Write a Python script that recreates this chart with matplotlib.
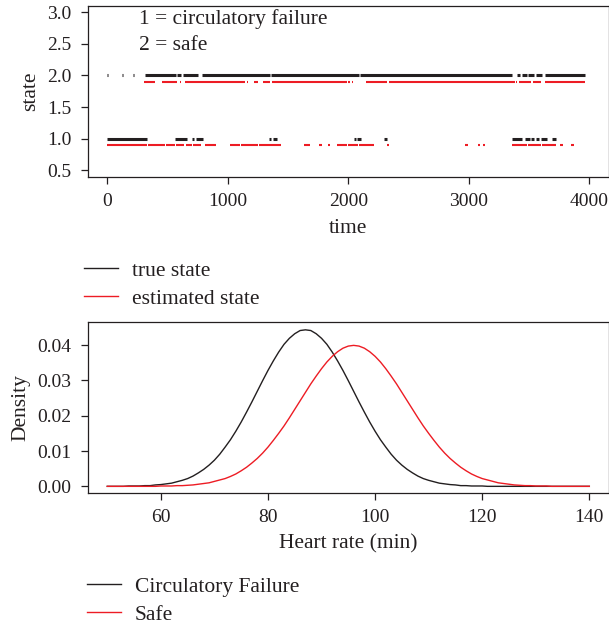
import matplotlib.pyplot as plt
from matplotlib.lines import Line2D

plt.rcParams["font.family"] = ["Liberation Serif", "DejaVu Serif"]
plt.rcParams["font.size"] = 15.5
plt.rcParams["text.color"] = "#231f20"
plt.rcParams["axes.labelcolor"] = "#231f20"
plt.rcParams["xtick.color"] = "#231f20"
plt.rcParams["ytick.color"] = "#231f20"
plt.rcParams["axes.edgecolor"] = "#231f20"

BLACK = "#231f20"
RED = "#ed1c24"

# ---- top panel: state over time (intervals of time where a state holds) ----
true_fail = [(0, 330), (565, 665), (705, 720), (735, 795), (1340, 1360), (1375, 1405),
             (2045, 2060), (2075, 2105), (2300, 2320), (3355, 3445), (3470, 3510),
             (3520, 3540), (3555, 3585), (3600, 3650), (3690, 3720)]
true_safe = [(0, 8), (120, 130), (210, 220), (311, 570), (575, 610), (632, 755),
             (783, 1347), (1355, 2085), (2095, 3362), (3400, 3422), (3438, 3482),
             (3495, 3542), (3556, 3610), (3630, 3965)]
est_fail = [(0, 330), (335, 420), (425, 480), (490, 560), (570, 640), (650, 700),
            (710, 780), (810, 900), (1020, 1100), (1110, 1250), (1260, 1440),
            (1630, 1685), (1760, 1780), (1830, 1850), (1905, 1990), (1995, 2080),
            (2090, 2215), (2325, 2340), (2970, 2990), (3075, 3095), (3115, 3135),
            (3355, 3480), (3490, 3600), (3610, 3720), (3760, 3780), (3850, 3870)]
est_safe = [(303, 393), (458, 580), (600, 615), (646, 1145), (1160, 1170), (1220, 1250),
            (1295, 1350), (1365, 1990), (1995, 2010), (2030, 2040), (2145, 2325),
            (2335, 3365), (3370, 3380), (3390, 3400), (3420, 3520), (3530, 3600),
            (3630, 3965)]
est_offset = 0.1

# ---- bottom panel: densities of heart rate (50..140 bpm, step 1) ----
heart_rate = list(range(50, 141))
dens_failure = [
    0, 0, 0, 0, .0001, .0001, .0001, .0002, .0002, .0004,
    .0005, .0007, .0009, .0013, .0017, .0022, .0029, .0038, .0048, .0060,
    .0074, .0091, .0111, .0132, .0156, .0182, .0210, .0239, .0269, .0299,
    .0328, .0355, .0380, .0402, .0419, .0432, .0441, .0443, .0441, .0432,
    .0419, .0402, .0380, .0355, .0328, .0299, .0269, .0239, .0210, .0182,
    .0156, .0132, .0111, .0091, .0074, .0060, .0048, .0038, .0029, .0022,
    .0017, .0013, .0009, .0007, .0005, .0004, .0002, .0002, .0001, .0001,
    .0001, 0, 0, 0, 0, 0, 0, 0, 0, 0,
    0, 0, 0, 0, 0, 0, 0, 0, 0, 0,
    0]
dens_safe = [
    0, 0, 0, 0, 0, 0, 0, 0, 0, 0,
    .0001, .0001, .0001, .0002, .0002, .0003, .0004, .0006, .0008, .0010,
    .0014, .0018, .0022, .0028, .0035, .0044, .0054, .0066, .0079, .0094,
    .0111, .0130, .0150, .0171, .0194, .0218, .0242, .0266, .0290, .0312,
    .0333, .0352, .0368, .0381, .0391, .0397, .0399, .0397, .0391, .0381,
    .0368, .0352, .0333, .0312, .0290, .0266, .0242, .0218, .0194, .0171,
    .0150, .0130, .0111, .0094, .0079, .0066, .0054, .0044, .0035, .0028,
    .0022, .0018, .0014, .0010, .0008, .0006, .0004, .0003, .0002, .0002,
    .0001, .0001, .0001, 0, 0, 0, 0, 0, 0, 0,
    0]

W, H = 609, 629
fig = plt.figure(figsize=(W / 100, H / 100), dpi=100)


def style_axes(ax):
    for s in ax.spines.values():
        s.set_linewidth(0.9)
    ax.tick_params(direction="out", length=5, width=0.9, pad=7, labelsize=14)


# top panel
ax1 = fig.add_axes([88 / W, 1 - 176.7 / H, (608.6 - 88) / W, (176.7 - 5.7) / H])
style_axes(ax1)
for state, ivals in ((1, true_fail), (2, true_safe)):
    ax1.hlines([state] * len(ivals), [a for a, b in ivals], [b for a, b in ivals],
               color=BLACK, lw=2.2)
for state, ivals in ((1, est_fail), (2, est_safe)):
    ax1.hlines([state - est_offset] * len(ivals), [a for a, b in ivals],
               [b for a, b in ivals], color=RED, lw=1.5)
ax1.set_xlim(-160, 4160)
ax1.set_ylim(0.4, 3.1)
ax1.set_xticks([0, 1000, 2000, 3000, 4000])
ax1.set_yticks([0.5, 1.0, 1.5, 2.0, 2.5, 3.0])
ax1.set_yticklabels(["0.5", "1.0", "1.5", "2.0", "2.5", "3.0"])
ax1.set_xlabel("time", labelpad=6)
ax1.set_ylabel("state", labelpad=5)
ax1.text(0.098, 0.922, "1 = circulatory failure", transform=ax1.transAxes, va="center")
ax1.text(0.098, 0.770, "2 = safe", transform=ax1.transAxes, va="center")

h1 = [Line2D([], [], color=BLACK, lw=1), Line2D([], [], color=RED, lw=1)]
fig.legend(h1, ["true state", "estimated state"], loc="upper left",
           bbox_to_anchor=(84 / W, 1 - 260.5 / H), frameon=False, borderpad=0,
           borderaxespad=0, handlelength=1.58, handletextpad=0.65, labelspacing=0.37)

# bottom panel
ax2 = fig.add_axes([88 / W, 1 - 492.7 / H, (608.6 - 88) / W, (492.7 - 321.7) / H])
style_axes(ax2)
ax2.plot(heart_rate, dens_failure, color=BLACK, lw=1.0)
ax2.plot(heart_rate, dens_safe, color=RED, lw=1.0)
ax2.set_xlim(46.4, 143.6)
ax2.set_ylim(-0.0018, 0.0466)
ax2.set_xticks([60, 80, 100, 120, 140])
ax2.set_yticks([0.0, 0.01, 0.02, 0.03, 0.04])
ax2.set_yticklabels(["0.00", "0.01", "0.02", "0.03", "0.04"])
ax2.set_xlabel("Heart rate (min)", labelpad=6)
ax2.set_ylabel("Density", labelpad=5)

h2 = [Line2D([], [], color=BLACK, lw=1), Line2D([], [], color=RED, lw=1)]
fig.legend(h2, ["Circulatory Failure", "Safe"], loc="upper left",
           bbox_to_anchor=(87 / W, 1 - 576.5 / H), frameon=False, borderpad=0,
           borderaxespad=0, handlelength=1.58, handletextpad=0.65, labelspacing=0.37)

fig.savefig("out.png", dpi=100)
